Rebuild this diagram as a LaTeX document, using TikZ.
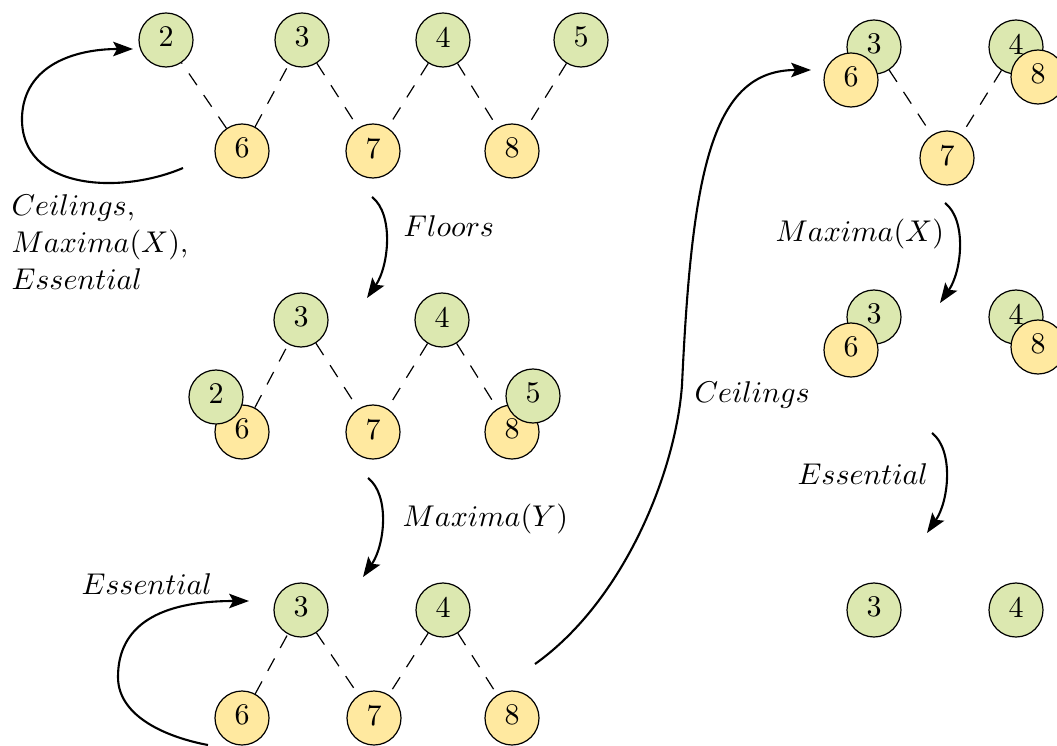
\documentclass[tikz,border=0pt]{standalone}
\usetikzlibrary{arrows.meta}
\definecolor{nodegreen}{RGB}{220,232,176}
\definecolor{nodeyellow}{RGB}{255,233,160}
\begin{document}
\begin{tikzpicture}[x=0.3333pt,y=-0.3333pt,
  vert/.style={circle,draw,line width=0.4pt,minimum size=18pt,inner sep=0pt,text depth=2pt},
  upper/.style={vert,fill=nodegreen},
  lower/.style={vert,fill=nodeyellow},
  link/.style={line width=0.4pt,dash pattern=on 4.7pt off 4pt},
  flow/.style={line width=0.7pt,-{Stealth[length=6.6pt,width=4.8pt,inset=1.3pt]}},
  lbl/.style={anchor=base west,inner sep=0pt,font=\fontsize{9.6pt}{11.5pt}\selectfont}]
\clip (0,0) rectangle (1057,746);

% ---- first lattice
\node[upper] (a2) at (166,40) {2};
\node[upper] (a3) at (302,40) {3};
\node[upper] (a4) at (443,40) {4};
\node[upper] (a5) at (581,40) {5};
\node[lower] (a6) at (242,151) {6};
\node[lower] (a7) at (373,151) {7};
\node[lower] (a8) at (512,151) {8};
\draw[link] (a6) -- (a2);
\draw[link] (a6) -- (a3);
\draw[link] (a3) -- (a7);
\draw[link] (a4) -- (a7);
\draw[link] (a4) -- (a8);
\draw[link] (a5) -- (a8);

% ---- after floors
\node[upper] (b3) at (301,320) {3};
\node[upper] (b4) at (442,320) {4};
\node[lower] (b6) at (242,432) {6};
\node[lower] (b7) at (373,432) {7};
\node[lower] (b8) at (512,432) {8};
\node[upper] (b2) at (216,397) {2};
\node[upper] (b5) at (533,396) {5};
\draw[link] (b6) -- (b3);
\draw[link] (b3) -- (b7);
\draw[link] (b4) -- (b7);
\draw[link] (b4) -- (b8);

% ---- after maxima of Y
\node[upper] (c3) at (301,610) {3};
\node[upper] (c4) at (443,610) {4};
\node[lower] (c6) at (242,718) {6};
\node[lower] (c7) at (374,718) {7};
\node[lower] (c8) at (512,718) {8};
\draw[link] (c6) -- (c3);
\draw[link] (c3) -- (c7);
\draw[link] (c4) -- (c7);
\draw[link] (c4) -- (c8);

% ---- after ceilings
\node[upper] (d3) at (874,47) {3};
\node[upper] (d4) at (1016,47) {4};
\node[lower] (d6) at (851,80) {6};
\node[lower] (d8) at (1038,77) {8};
\node[lower] (d7) at (947,158) {7};
\draw[link] (d3) -- (d7);
\draw[link] (d4) -- (d7);

% ---- after maxima of X
\node[upper] (e3) at (874,317) {3};
\node[upper] (e4) at (1016,317) {4};
\node[lower] (e6) at (851,350) {6};
\node[lower] (e8) at (1038,347) {8};

% ---- after essential
\node[upper] (f3) at (874,610) {3};
\node[upper] (f4) at (1016,610) {4};

% ---- arrow ends
\coordinate (l1s) at (183,168);
\coordinate (l1e) at (133,49);
\coordinate (fls) at (372,197);
\coordinate (fle) at (367,298);
\coordinate (mys) at (368,478);
\coordinate (mye) at (363,577);
\coordinate (l2s) at (208,745);
\coordinate (l2e) at (249,601);
\coordinate (ces) at (535,664);
\coordinate (cee) at (811,70);
\coordinate (mxs) at (945,203);
\coordinate (mxe) at (940,303);
\coordinate (ess) at (932,433);
\coordinate (ese) at (927,533);

\draw[flow] (l1s) .. controls (120,195) and (20,190) .. (22,117)
               .. controls (24,65) and (75,49) .. (l1e);
\draw[flow] (fls) .. controls (394,214) and (389,266) .. (fle);
\draw[flow] (mys) .. controls (390,495) and (385,545) .. (mye);
\draw[flow] (l2s) .. controls (170,738) and (118,718) .. (118,677)
               .. controls (118,625) and (160,601) .. (l2e);
\draw[flow] (ces) .. controls (625,600) and (676,470) .. (682,385)
               .. controls (692,170) and (712,70) .. (cee);
\draw[flow] (mxs) .. controls (967,220) and (962,271) .. (mxe);
\draw[flow] (ess) .. controls (954,450) and (949,501) .. (ese);

% ---- labels
\node[lbl] (tc1) at (11,216) {$Ceilings$,};
\node[lbl] (tc2) at (11,253) {$Maxima(X)$,};
\node[lbl] (tc3) at (11,290) {$Essential$};
\node[lbl] (tfl) at (403,237) {$Floors$};
\node[lbl] (tmy) at (402,526) {$Maxima(Y)$};
\node[lbl] (tel) at (81,594) {$Essential$};
\node[lbl] (tce) at (694,402) {$Ceilings$};
\node[lbl] (tmx) at (775,241) {$Maxima(X)$};
\node[lbl] (ter) at (797,484) {$Essential$};
\end{tikzpicture}
\end{document}
